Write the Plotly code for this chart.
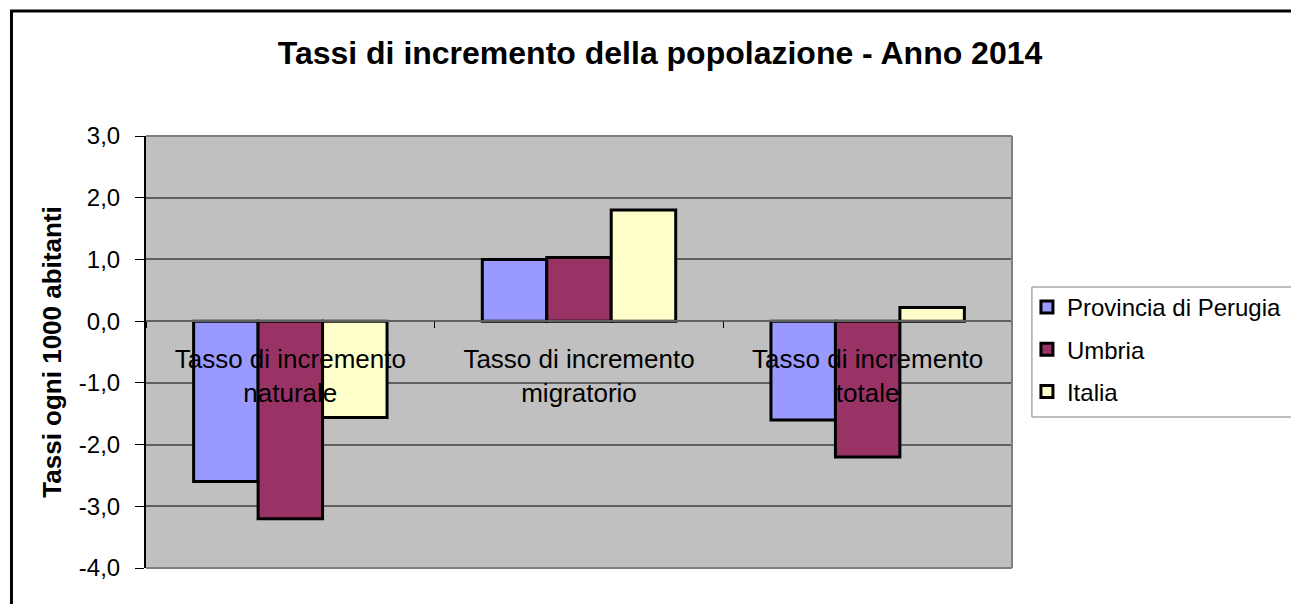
import plotly.graph_objects as go

categories = ["Tasso di incremento<br>naturale", "Tasso di incremento<br>migratorio", "Tasso di incremento<br>totale"]
series_names = ["Provincia di Perugia", "Umbria", "Italia"]
perugia = [-2.6, 1.0, -1.6]
umbria = [-3.2, 1.03, -2.2]
italia = [-1.56, 1.8, 0.22]
colors = ["#9999FF", "#993366", "#FFFFCC"]
y_ticks = [-4, -3, -2, -1, 0, 1, 2, 3]
y_ticktext = [f"{v:.1f}".replace(".", ",") for v in y_ticks]

OFF = 8  # default page body margin
WIN_W, WIN_H = 1299, 604
W, H = WIN_W - OFF, WIN_H - OFF
L, R, T, B = 146, 1015, 136, 568   # plot area in window pixels
FONT = "Liberation Sans, Arial, sans-serif"
pw, ph = R - L, B - T


def px_x(x):
    return (x - L) / pw


def px_y(y):
    return (B - y) / ph


fig = go.Figure()
for i, (name, vals) in enumerate(zip(series_names, [perugia, umbria, italia])):
    fig.add_trace(go.Bar(
        x=categories, y=vals, name=name,
        marker=dict(color=colors[i], line=dict(color="black", width=3)),
        legendgroup=name,
    ))

ymin, ymax = -4, 3
fig.update_layout(
    width=W, height=H,
    margin=dict(l=L - OFF, r=WIN_W - R, t=T - OFF, b=WIN_H - B, pad=0),
    paper_bgcolor="white",
    plot_bgcolor="#C0C0C0",
    barmode="group",
    bargap=0.33, bargroupgap=0,
    font=dict(family=FONT, color="black"),
    title=dict(text="<b>Tassi di incremento della popolazione - Anno 2014</b>",
               x=(660 - OFF) / W, xanchor="center", y=1 - (53 - OFF) / H, yanchor="middle",
               font=dict(size=32, family=FONT, color="black")),
    showlegend=True,
    legend=dict(x=px_x(1030), xanchor="left",
                y=px_y(285), yanchor="top",
                borderwidth=0, bgcolor="rgba(0,0,0,0)",
                font=dict(size=24, family=FONT, color="black"),
                tracegroupgap=8, itemwidth=30),
    xaxis=dict(
        type="category", range=[-0.5, 2.5],
        anchor="free", position=(0 - ymin) / (ymax - ymin),
        showline=True, linecolor="#606060", linewidth=2,
        ticks="outside", ticklen=6, tickcolor="black", tickwidth=1,
        tickson="boundaries",
        showgrid=False,
        tickfont=dict(size=26, family=FONT, color="black"),
        ticklabelstandoff=15,
        layer="above traces",
    ),
    yaxis=dict(
        range=[ymin, ymax], tickvals=y_ticks, ticktext=y_ticktext,
        showgrid=True, gridcolor="#606060", gridwidth=2,
        showline=True, linecolor="black", linewidth=2,
        ticks="outside", ticklen=9, tickcolor="black",
        ticklabelstandoff=10,
        tickfont=dict(size=24, family=FONT, color="black"),
        zeroline=False,
        title=dict(text="<b>Tassi ogni 1000 abitanti</b>",
                   font=dict(size=26, family=FONT, color="black"), standoff=10),
    ),
)

# plot-area border (top, right, bottom gray)
for x0, x1, y0, y1 in [(0, 1, 1, 1), (1, 1, 0, 1), (0, 1, 0, 0)]:
    fig.add_shape(type="line", xref="paper", yref="paper", x0=x0, x1=x1, y0=y0, y1=y1,
                  line=dict(color="#808080", width=2))

# legend box (extends past the right edge, as in the original)
fig.add_shape(type="rect", xref="paper", yref="paper", layer="above",
              x0=px_x(1035), x1=px_x(1320), y0=px_y(417), y1=px_y(287),
              line=dict(color="#808080", width=1), fillcolor="rgba(0,0,0,0)")

# outer chart frame
fig.add_shape(type="rect", xref="paper", yref="paper", layer="above",
              x0=px_x(11), x1=px_x(1320), y0=px_y(640), y1=px_y(11),
              line=dict(color="black", width=3), fillcolor="rgba(0,0,0,0)")

fig.write_html("out.html")
